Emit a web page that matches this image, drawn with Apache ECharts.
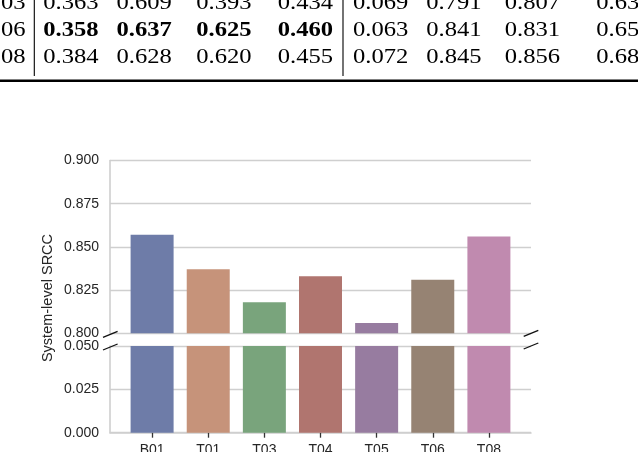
<!DOCTYPE html>
<html>
<head>
<meta charset="utf-8">
<script src="https://cdn.jsdelivr.net/npm/echarts@6/dist/echarts.min.js"></script>
<style>
html,body{margin:0;padding:0;background:#fff;}
#chart{width:638px;height:452px;}
</style>
</head>
<body>
<div id="chart"></div>
<script>
// ---- Chart data ----
var categories = ['B01', 'T01', 'T03', 'T04', 'T05', 'T06', 'T08'];
var srcc = [0.857, 0.837, 0.818, 0.833, 0.806, 0.831, 0.856];
var barColors = ['#6e7ca8', '#c6937a', '#79a47c', '#b0756f', '#977ca0', '#968373', '#c08aaf'];
var upperTicks = [0.800, 0.825, 0.850, 0.875, 0.900];
var lowerTicks = [0.000, 0.025, 0.050];

// ---- Table fragment (top of page) ----
var tableRowLabels = ['03', '06', '08'];
var tableRows = [
  ['0.363', '0.609', '0.393', '0.434', '0.069', '0.791', '0.807', '0.63'],
  ['0.358', '0.637', '0.625', '0.460', '0.063', '0.841', '0.831', '0.65'],
  ['0.384', '0.628', '0.620', '0.455', '0.072', '0.845', '0.856', '0.68']
];
var tableBoldCells = [[], [0, 1, 2, 3], []];

// ---- layout ----
var colX = [43.3, 116.5, 196.3, 277.7, 353, 426.3, 504.7, 596.3];
var rowY = [3.3, 30.5, 57.3];
var tableFont = 20.5;
var tableScaleX = 1.2;

var chart = echarts.init(document.getElementById('chart'), null, {renderer: 'canvas'});

var gridColor = '#cfcfcf';
var textColor = '#262626';
var sansFont = 'Liberation Sans, Arial, Helvetica, sans-serif';

function barData() {
  return srcc.map(function (v, i) {
    return {value: [i, v], itemStyle: {color: barColors[i]}};
  });
}

var idx = categories.map(function (c, i) { return i; });

var graphics = [];
tableRows.forEach(function (row, r) {
  graphics.push({
    type: 'text', id: 'rl' + r, x: 25.5, y: rowY[r], scaleX: tableScaleX, z: 10,
    style: {text: tableRowLabels[r], font: tableFont + 'px "Liberation Serif", "Times New Roman", serif',
      fill: '#000', align: 'right', verticalAlign: 'middle'}
  });
  row.forEach(function (cell, c) {
    var bold = tableBoldCells[r].indexOf(c) >= 0;
    graphics.push({
      type: 'text', id: 'c' + r + '_' + c, x: colX[c], y: rowY[r], scaleX: tableScaleX, z: 10,
      style: {text: cell, font: (bold ? 'bold ' : '') + tableFont + 'px "Liberation Serif", "Times New Roman", serif',
        fill: '#000', align: 'left', verticalAlign: 'middle'}
    });
  });
});
graphics.push({type: 'line', id: 'vl1', shape: {x1: 34.3, y1: 0, x2: 34.3, y2: 76}, style: {stroke: '#000', lineWidth: 1.1}});
graphics.push({type: 'line', id: 'vl2', shape: {x1: 343, y1: 0, x2: 343, y2: 76}, style: {stroke: '#000', lineWidth: 1.1}});
graphics.push({type: 'line', id: 'hl', shape: {x1: 0, y1: 80.7, x2: 638, y2: 80.7}, style: {stroke: '#000', lineWidth: 2.6}});
graphics.push({
  type: 'text', id: 'ytitle', x: 48, y: 298, rotation: Math.PI / 2, z: 10,
  style: {text: 'System-level SRCC', font: '14.5px ' + sansFont, fill: textColor, align: 'center', verticalAlign: 'middle'}
});

function yAxisCfg(grid, ticks) {
  return {type: 'value', gridIndex: grid, min: ticks[0], max: ticks[ticks.length - 1], interval: 0.025,
    axisLine: {show: true, onZero: false, lineStyle: {color: gridColor, width: 1.6}},
    axisTick: {show: false},
    axisLabel: {margin: 11, fontSize: 14, fontFamily: sansFont, color: textColor,
      formatter: function (v) { return v.toFixed(3); }},
    splitLine: {show: true, lineStyle: {color: gridColor, width: 1.4}}};
}

var option = {
  animation: false,
  backgroundColor: '#fff',
  grid: [
    {left: 110, right: 107, top: 160.5, height: 172.8, outerBoundsMode: 'none', containLabel: false},
    {left: 110, right: 107, top: 346, height: 86.7, outerBoundsMode: 'none', containLabel: false}
  ],
  xAxis: [
    {type: 'value', gridIndex: 0, min: -0.75, max: 6.75,
      axisLine: {show: false}, axisTick: {show: false}, axisLabel: {show: false}, splitLine: {show: false}},
    {type: 'value', gridIndex: 1, min: -0.75, max: 6.75,
      axisLine: {show: true, onZero: false, lineStyle: {color: gridColor, width: 1.6}},
      axisTick: {show: true, customValues: idx, length: 5, inside: false, lineStyle: {color: '#333', width: 1.3}},
      axisLabel: {show: true, customValues: idx, margin: 10, fontSize: 14, fontFamily: sansFont, color: textColor,
        formatter: function (v) { return categories[Math.round(v)]; }},
      splitLine: {show: false}}
  ],
  yAxis: [yAxisCfg(0, upperTicks), yAxisCfg(1, lowerTicks)],
  series: [
    {type: 'bar', xAxisIndex: 0, yAxisIndex: 0, data: barData(), barWidth: 43, clip: true},
    {type: 'bar', xAxisIndex: 1, yAxisIndex: 1, data: barData(), barWidth: 43, clip: true}
  ],
  graphic: graphics
};
chart.setOption(option);

var tl = chart.convertToPixel({gridIndex: 0}, [-0.75, upperTicks[0]]);
var tr = chart.convertToPixel({gridIndex: 0}, [6.75, upperTicks[0]]);
var bl = chart.convertToPixel({gridIndex: 1}, [-0.75, lowerTicks[lowerTicks.length - 1]]);
var br = chart.convertToPixel({gridIndex: 1}, [6.75, lowerTicks[lowerTicks.length - 1]]);
function mark(id, p) {
  return {type: 'line', id: id, z: 20,
    shape: {x1: p[0] - 7.3, y1: p[1] + 3, x2: p[0] + 7.3, y2: p[1] - 3},
    style: {stroke: '#111', lineWidth: 1.3}};
}
chart.setOption({graphic: [
  mark('bk1', [tl[0] + 0.3, tl[1] + 1]), mark('bk2', [tr[0], tr[1]]),
  mark('bk3', [bl[0] + 0.3, bl[1] + 1]), mark('bk4', [br[0], br[1]])
]});
</script>
</body>
</html>
